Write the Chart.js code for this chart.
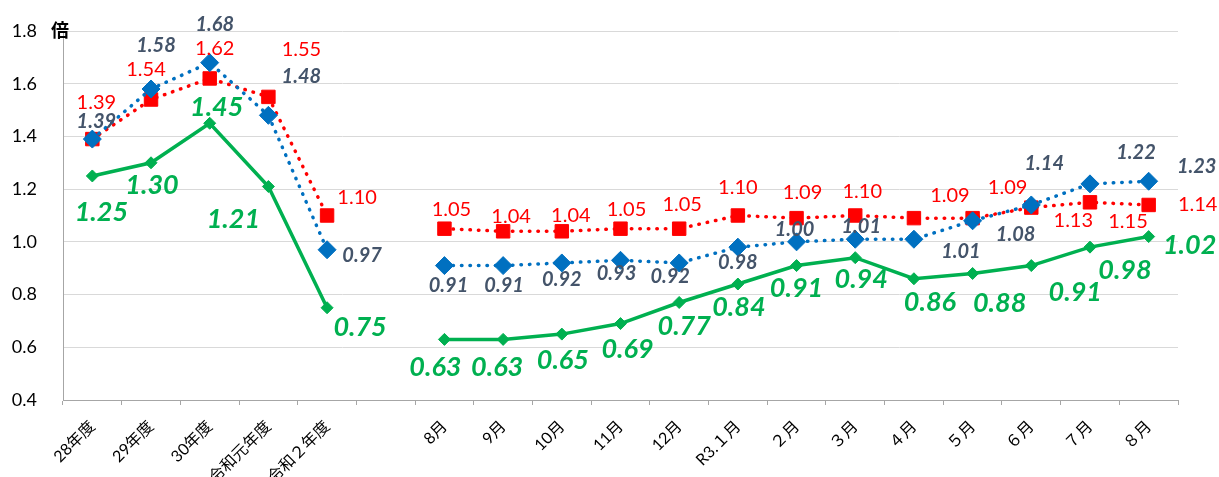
<!DOCTYPE html>
<html>
<head>
<meta charset="utf-8">
<script src="https://cdn.jsdelivr.net/npm/chart.js@4"></script>
<style>
    body { margin: 0; background: #fff; }
    .wrap { position: relative; width: 1219px; height: 477px; }
</style>
</head>
<body>
<div class="wrap"><canvas id="myChart"></canvas></div>
<script>
// Categories (blank slot separates fiscal years from months)
var labels = ['28年度', '29年度', '30年度', '令和元年度', '令和２年度', '',
    '8月', '9月', '10月', '11月', '12月', 'R3.１月', '２月', '３月', '４月', '５月', '６月', '７月', '８月'];

// Series values
var redValues = [1.39, 1.54, 1.62, 1.55, 1.10, null,
    1.05, 1.04, 1.04, 1.05, 1.05, 1.10, 1.09, 1.10, 1.09, 1.09, 1.13, 1.15, 1.14];
var blueValues = [1.39, 1.58, 1.68, 1.48, 0.97, null,
    0.91, 0.91, 0.92, 0.93, 0.92, 0.98, 1.00, 1.01, 1.01, 1.08, 1.14, 1.22, 1.23];
var greenValues = [1.25, 1.30, 1.45, 1.21, 0.75, null,
    0.63, 0.63, 0.65, 0.69, 0.77, 0.84, 0.91, 0.94, 0.86, 0.88, 0.91, 0.98, 1.02];

// Y axis
var yMin = 0.4, yMax = 1.8, yStep = 0.2;
var unitLabel = '倍';

// Label offsets from each point (style only)
var redOffsets = [[4,-37],[-5,-30],[5,-30],[33,-47],[30,-18],null,
    [7,-19],[8,-15],[9,-16],[6,-19],[3,-24],[0,-28],[6,-26],[7,-24],[36,-23],[35,-31],[42,13],[38,19],[49,0]];
var blueOffsets = [[4,-18],[5,-43],[5,-38],[33,-39],[35,6],null,
    [4,20],[1,20],[0,17],[-4,13],[-9,14],[0,15],[-2,-12],[6,-13],[47,12],[43,14],[13,-41],[46,-31],[48,-15]];
var greenOffsets = [[9,36],[1,23],[7,-16],[-35,33],[33,20],null,
    [-9,28],[-6,28],[1,26],[7,26],[5,24],[1,23],[0,23],[6,22],[16,24],[27,30],[44,27],[35,23],[41,9]];

var FONT = 'Lato, "Noto Sans CJK JP", sans-serif';

var labelStyles = [
    { font: 'bold italic 20px ' + FONT, color: '#44546a', offsets: blueOffsets },
    { font: '20px ' + FONT, color: '#ff0000', offsets: redOffsets },
    { font: 'bold italic 27px ' + FONT, color: '#00b050', offsets: greenOffsets }
];

var valueLabels = {
    id: 'valueLabels',
    afterDatasetsDraw: function (chart) {
        var ctx = chart.ctx;
        ctx.save();
        ctx.textAlign = 'center';
        ctx.textBaseline = 'middle';
        chart.data.datasets.forEach(function (ds, di) {
            var st = labelStyles[di];
            var meta = chart.getDatasetMeta(di);
            ctx.font = st.font;
            ctx.fillStyle = st.color;
            meta.data.forEach(function (pt, i) {
                var v = ds.data[i];
                if (v === null || !st.offsets[i]) return;
                ctx.fillText(v.toFixed(2), pt.x + st.offsets[i][0], pt.y + st.offsets[i][1]);
            });
        });
        // unit
        ctx.font = 'bold 18px ' + FONT;
        ctx.fillStyle = '#000';
        ctx.fillText(unitLabel, 60, 31);
        ctx.restore();
    }
};

var ctx = document.getElementById('myChart').getContext('2d');
var myChart = new Chart(ctx, {
    type: 'line',
    data: {
        labels: labels,
        datasets: [
            {
                data: blueValues,
                borderColor: '#0070c0',
                backgroundColor: '#0070c0',
                borderWidth: 3.5,
                borderDash: [0.5, 8],
                borderCapStyle: 'round',
                pointStyle: 'rectRot',
                pointRadius: 9,
                pointBorderWidth: 1,
                order: 1
            },
            {
                data: redValues,
                borderColor: '#ff0000',
                backgroundColor: '#ff0000',
                borderWidth: 3.5,
                borderDash: [0.5, 8],
                borderCapStyle: 'round',
                pointStyle: 'rect',
                pointRadius: 9.5,
                pointBorderWidth: 1,
                order: 2
            },
            {
                data: greenValues,
                borderColor: '#00b050',
                backgroundColor: '#00b050',
                borderWidth: 3.5,
                pointStyle: 'rectRot',
                pointRadius: 6,
                pointBorderWidth: 1,
                order: 3
            }
        ]
    },
    options: {
        responsive: true,
        maintainAspectRatio: false,
        animation: false,
        spanGaps: false,
        layout: { padding: { top: 31, right: 41, left: 0, bottom: 0 } },
        plugins: {
            legend: { display: false },
            tooltip: { enabled: false }
        },
        scales: {
            x: {
                offset: true,
                grid: {
                    offset: true,
                    drawOnChartArea: false,
                    tickLength: 5,
                    color: '#a6a6a6'
                },
                border: { color: '#a6a6a6', width: 1 },
                ticks: {
                    autoSkip: false,
                    minRotation: 45,
                    maxRotation: 45,
                    padding: 12,
                    color: '#000',
                    font: { family: FONT, size: 16 }
                },
                afterFit: function (scale) { scale.height = 77; }
            },
            y: {
                min: yMin,
                max: yMax,
                grid: { color: '#d9d9d9', drawTicks: false },
                border: { color: '#a6a6a6', width: 1 },
                ticks: {
                    stepSize: yStep,
                    padding: 26,
                    color: '#000',
                    font: { family: FONT, size: 18 },
                    callback: function (v) { return v.toFixed(1); }
                },
                afterFit: function (scale) {
                    scale.width = 63;
                    // ticks.padding would otherwise push the plot top down
                    scale.paddingTop = 0;
                    scale.paddingBottom = 0;
                }
            }
        }
    },
    plugins: [valueLabels]
});
</script>
</body>
</html>
